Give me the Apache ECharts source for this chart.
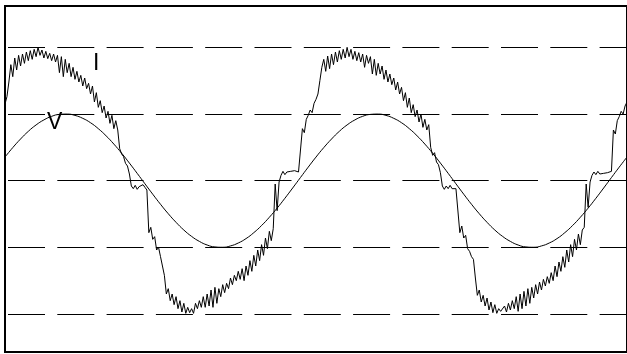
<!DOCTYPE html>
<html>
<head>
<meta charset="utf-8">
<script src="https://cdn.jsdelivr.net/npm/echarts@6/dist/echarts.min.js"></script>
<style>
html,body{margin:0;padding:0;background:#fff;}
#chart{width:627px;height:354px;}
</style>
</head>
<body>
<div id="chart"></div>
<script>
// Sampling interval of the current trace (ms)
const currentStepMs = 0.125;
// Current I, two mains periods
const currentI = [
 1.15,1.26,1.48,1.74,1.56,1.84,1.66,1.88,1.72,1.90,1.76,1.93,1.80,1.95,1.82,1.97,1.86,2.00,1.88,1.96,
 1.84,1.94,1.83,1.91,1.80,1.90,1.78,1.88,1.62,1.86,1.56,1.82,1.62,1.76,1.56,1.70,1.52,1.64,1.48,1.58,
 1.42,1.54,1.38,1.46,1.30,1.42,1.18,1.32,1.10,1.20,1.02,1.12,0.94,1.04,0.86,0.98,0.78,0.90,0.76,0.48,
 0.40,0.36,0.26,0.22,0.10,-0.08,-0.12,-0.07,-0.13,-0.09,-0.11,-0.06,-0.10,-0.14,-0.78,-0.70,-0.88,-0.84,-1.04,-1.00,
 -1.14,-1.16,-1.42,-1.70,-1.62,-1.80,-1.70,-1.86,-1.74,-1.92,-1.80,-1.97,-1.84,-1.99,-1.90,-1.98,-1.92,-1.99,-1.84,-1.92,
 -1.80,-1.90,-1.74,-1.90,-1.70,-1.88,-1.64,-1.90,-1.60,-1.84,-1.62,-1.74,-1.56,-1.68,-1.54,-1.62,-1.46,-1.56,-1.42,-1.50,
 -1.36,-1.48,-1.32,-1.50,-1.28,-1.42,-1.20,-1.36,-1.12,-1.28,-1.04,-1.20,-0.96,-1.12,-0.86,-1.02,-0.76,-0.90,-0.72,-0.05,
 -0.45,-0.02,0.08,0.14,0.09,0.13,0.10,0.14,0.11,0.15,0.12,0.13,0.14,0.78,0.72,0.92,0.98,1.06,1.02,1.16,
 1.22,1.30,1.50,1.70,1.82,1.64,1.87,1.68,1.90,1.74,1.93,1.78,1.95,1.82,1.97,1.84,2.00,1.86,1.97,1.82,
 1.94,1.80,1.92,1.78,1.90,1.70,1.88,1.76,1.86,1.60,1.82,1.58,1.76,1.60,1.72,1.52,1.66,1.48,1.60,1.44,
 1.54,1.36,1.48,1.30,1.40,1.20,1.32,1.10,1.24,1.02,1.14,0.96,1.06,0.88,1.00,0.80,0.92,0.76,0.84,0.50,
 0.38,0.42,0.28,0.24,0.12,-0.08,-0.13,-0.08,-0.12,-0.07,-0.12,-0.09,-0.12,-0.14,-0.78,-0.68,-0.86,-0.82,-1.02,-1.06,
 -1.14,-1.18,-1.46,-1.72,-1.64,-1.82,-1.72,-1.88,-1.76,-1.94,-1.82,-1.98,-1.86,-1.99,-1.92,-1.96,-1.99,-1.88,-1.97,-1.84,
 -1.94,-1.80,-1.92,-1.74,-1.96,-1.70,-1.92,-1.66,-1.88,-1.62,-1.84,-1.60,-1.76,-1.56,-1.70,-1.52,-1.64,-1.48,-1.58,-1.44,
 -1.54,-1.38,-1.50,-1.28,-1.44,-1.22,-1.36,-1.14,-1.30,-1.04,-1.22,-0.96,-1.14,-0.88,-1.04,-0.80,-0.96,-0.74,-0.70,-0.05,
 -0.40,-0.02,0.08,0.13,0.09,0.14,0.10,0.13,0.11,0.14,0.12,0.13,0.14,0.76,0.70,0.90,0.96,1.04,1.00,1.12,
 1.18
];
// Sampling interval of the voltage trace (ms)
const voltageStepMs = 0.5;
// Voltage V
const voltageV = [
 0.354,0.496,0.625,0.740,0.836,0.911,0.965,0.994,0.999,0.979,0.935,0.869,0.780,0.673,0.549,0.412,0.264,0.110,-0.047,-0.203,
 -0.354,-0.496,-0.625,-0.740,-0.836,-0.911,-0.965,-0.994,-0.999,-0.979,-0.935,-0.869,-0.780,-0.673,-0.549,-0.412,-0.264,-0.110,0.047,0.203,
 0.354,0.496,0.625,0.740,0.836,0.911,0.965,0.994,0.999,0.979,0.935,0.869,0.780,0.673,0.549,0.412,0.264,0.110,-0.047,-0.203,
 -0.354,-0.496,-0.625,-0.740,-0.836,-0.911,-0.965,-0.994,-0.999,-0.979,-0.935,-0.869,-0.780,-0.673,-0.549,-0.412,-0.264,-0.110,0.047,0.203,
 0.354
];
// Dashed reference levels
const gridLevels = [2, 1, 0, -1, -2];
// Trace names
const traceNames = ['I', 'V'];

const iData = currentI.map((v, i) => [i * currentStepMs, v]);
const vData = voltageV.map((v, i) => [i * voltageStepMs, v]);

const chart = echarts.init(document.getElementById('chart'), null, {renderer: 'canvas'});
chart.setOption({
  animation: false,
  backgroundColor: '#ffffff',
  grid: {
    left: 5, top: 6, right: -2, bottom: 2,
    show: true, borderColor: '#000', borderWidth: 2, backgroundColor: 'transparent'
  },
  xAxis: {
    type: 'value', min: 0, max: 40,
    axisLine: {show: false}, axisTick: {show: false}, axisLabel: {show: false}, splitLine: {show: false}
  },
  yAxis: {
    type: 'value', min: -2.57, max: 2.62,
    axisLine: {show: false}, axisTick: {show: false}, axisLabel: {show: false}, splitLine: {show: false}
  },
  series: [
    {
      name: traceNames[0], type: 'line', data: iData, showSymbol: false, smooth: false,
      lineStyle: {color: '#000', width: 1}, z: 3,
      markLine: {
        silent: true, symbol: ['none', 'none'], label: {show: false},
        lineStyle: {color: '#000', width: 1, type: [37, 12.3], dashOffset: 46.3},
        data: gridLevels.map(v => ({yAxis: v}))
      }
    },
    {
      name: traceNames[1], type: 'line', data: vData, showSymbol: false, smooth: true,
      lineStyle: {color: '#000', width: 1}, z: 3
    }
  ],
  graphic: [
    {type: 'text', x: 93, y: 52, style: {text: traceNames[0], font: '23px "Liberation Sans", Arial, sans-serif', fill: '#000', verticalAlign: 'top'}},
    {type: 'text', x: 47, y: 111, style: {text: traceNames[1], font: '23px "Liberation Sans", Arial, sans-serif', fill: '#000', verticalAlign: 'top'}}
  ]
});
</script>
</body>
</html>
